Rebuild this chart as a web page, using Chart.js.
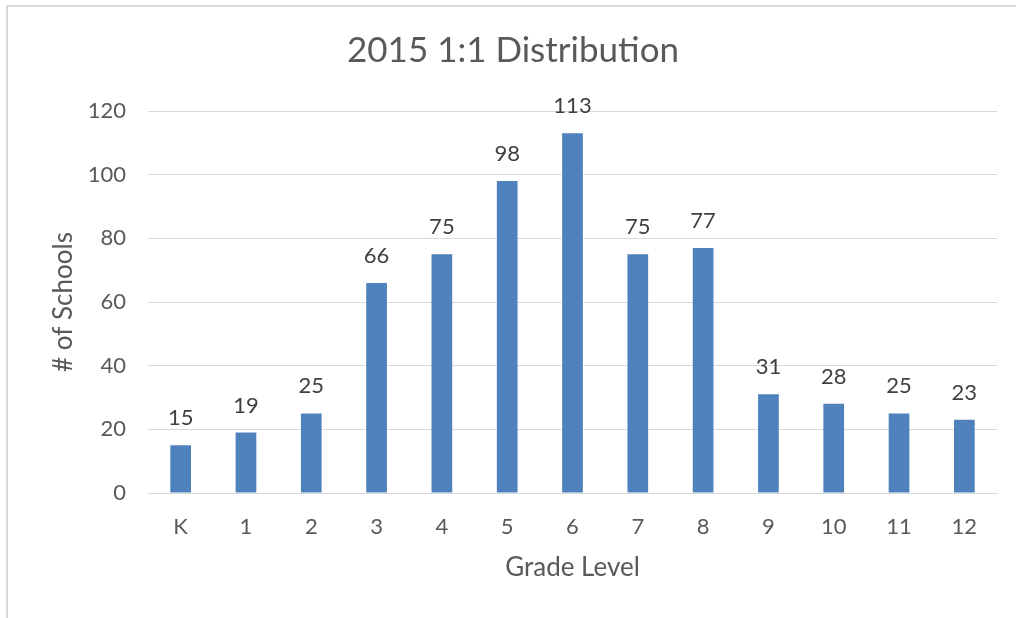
<!DOCTYPE html>
<html>
<head>
<meta charset="utf-8">
<script src="https://cdn.jsdelivr.net/npm/chart.js@4/dist/chart.umd.min.js"></script>
<style>
  html, body { margin: 0; padding: 0; background: #fff; overflow: hidden; }
  #wrap { position: relative; width: 1016px; height: 618px; }
  #frame { position: absolute; left: 6px; top: 5px; right: -10px; bottom: -10px;
           border-top: 2px solid #d9d9d9; border-left: 2px solid #d9d9d9; }
  canvas { position: absolute; left: 0; top: 0; }
</style>
</head>
<body>
<div id="wrap">
  <div id="frame"></div>
  <canvas id="c" width="1016" height="618"></canvas>
</div>
<script>
const categories = ['K', '1', '2', '3', '4', '5', '6', '7', '8', '9', '10', '11', '12'];
const schools = [15, 19, 25, 66, 75, 98, 113, 75, 77, 31, 28, 25, 23];
const yTicks = [0, 20, 40, 60, 80, 100, 120];

const FONT = 'Lato, "Open Sans", sans-serif';
const TEXT = '#595959';

const dataLabels = {
  id: 'dataLabels',
  afterDatasetsDraw(chart) {
    const ctx = chart.ctx;
    const meta = chart.getDatasetMeta(0);
    ctx.save();
    ctx.font = '22px ' + FONT;
    ctx.fillStyle = '#404040';
    ctx.textAlign = 'center';
    ctx.textBaseline = 'alphabetic';
    meta.data.forEach((bar, i) => {
      ctx.fillText(String(chart.data.datasets[0].data[i]), bar.x, bar.y - 20);
    });
    ctx.restore();
  }
};

new Chart(document.getElementById('c'), {
  type: 'bar',
  data: {
    labels: categories,
    datasets: [{
      data: schools,
      backgroundColor: '#4F81BD',
      barPercentage: 0.317,
      categoryPercentage: 1.0
    }]
  },
  options: {
    responsive: false,
    animation: false,
    layout: { padding: { left: 29, right: 19, top: 10, bottom: 30 } },
    plugins: {
      legend: { display: false },
      tooltip: { enabled: false },
      title: {
        display: true,
        text: '2015 1:1 Distribution',
        color: TEXT,
        font: { family: FONT, size: 35, weight: 'normal' },
        padding: { top: 20, bottom: 39 }
      }
    },
    scales: {
      x: {
        offset: true,
        grid: { display: false },
        border: { display: true, color: '#d9d9d9', width: 1 },
        ticks: { color: TEXT, font: { family: FONT, size: 22 }, padding: 13, maxRotation: 0, autoSkip: false },
        title: { display: true, text: 'Grade Level', color: TEXT,
                 font: { family: FONT, size: 26 }, padding: { top: 0, bottom: 5 } },
        afterFit(scale) { scale.height = 95; }
      },
      y: {
        min: 0, max: 120,
        afterBuildTicks(scale) { scale.ticks = yTicks.map(v => ({ value: v })); },
        grid: { color: '#d9d9d9', lineWidth: 1, drawTicks: false },
        border: { display: false },
        ticks: { color: TEXT, font: { family: FONT, size: 22 }, padding: 22 },
        title: { display: true, text: '# of Schools', color: TEXT,
                 font: { family: FONT, size: 26 }, padding: { top: 19, bottom: 0 } },
        afterFit(scale) { scale.width = 119; }
      }
    }
  },
  plugins: [dataLabels]
});
</script>
</body>
</html>
